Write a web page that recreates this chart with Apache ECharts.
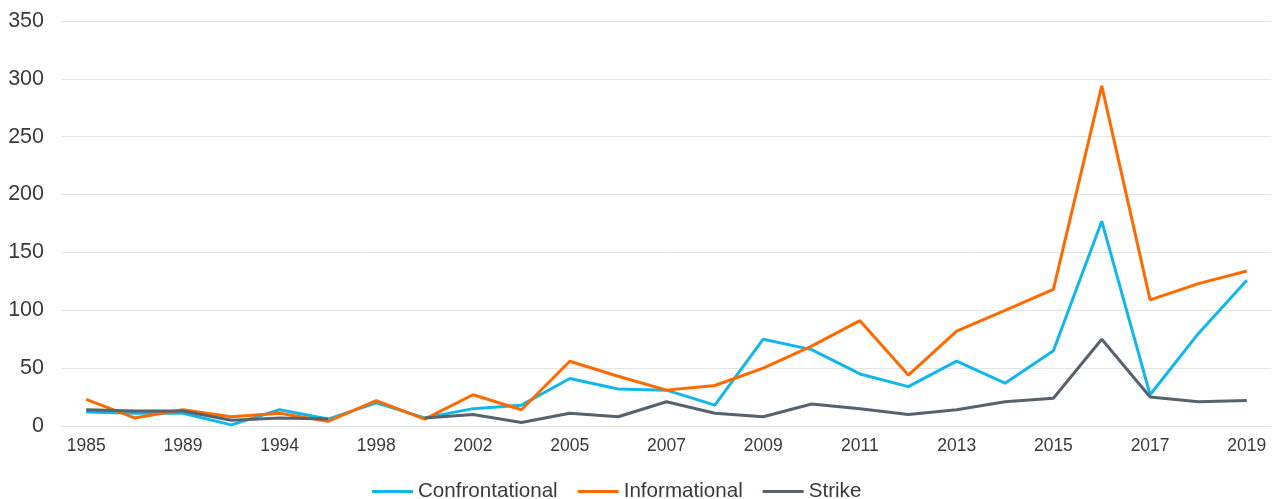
<!DOCTYPE html>
<html>
<head>
<meta charset="utf-8">
<script src="https://cdn.jsdelivr.net/npm/echarts@6/dist/echarts.min.js"></script>
<style>
html,body{margin:0;padding:0;background:#fff;}
#chart{width:1275px;height:499px;}
</style>
</head>
<body>
<div id="chart"></div>
<script>
const years = ['1985','1987','1989','1992','1994','1996','1998','2000','2002','2004','2005','2006','2007','2008','2009','2010','2011','2012','2013','2014','2015','2016','2017','2018','2019'];
const confrontational = [12,11,11,1,14,6,20,7,15,18,41,32,31,18,75,66,45,34,56,37,65,177,27,80,126];
const informational = [23,7,14,8,11,4,22,6,27,14,56,43,31,35,50,69,91,44,82,100,118,294,109,123,134];
const strike = [14,13,13,5,7,6,null,7,10,3,11,8,21,11,8,19,15,10,14,21,24,75,25,21,22];
const yTicks = [0,50,100,150,200,250,300,350];

const chart = echarts.init(document.getElementById('chart'));
const font = 'Liberation Sans, Arial, sans-serif';
function line(name, data, color){
  return {name, type:'line', data, showSymbol:false, symbol:'none', connectNulls:false,
    lineStyle:{color, width:3}, itemStyle:{color}, animation:false};
}
chart.setOption({
  animation:false,
  grid:{left:62, right:4, top:21, bottom:73},
  legend:{
    left:367, top:476, icon:'rect', itemWidth:41, itemHeight:3, itemGap:20,
    textStyle:{fontFamily:font, fontSize:20.6, color:'#3a3a3a', padding:[0,0,0,0]},
    data:['Confrontational','Informational','Strike']
  },
  xAxis:{
    type:'category', data:years, boundaryGap:true,
    axisLine:{show:true, lineStyle:{color:'#e3e3e3', width:1}},
    axisTick:{show:false},
    axisLabel:{interval:1, fontFamily:font, fontSize:17.5, color:'#3a3a3a', margin:11}
  },
  yAxis:{
    type:'value', min:yTicks[0], max:yTicks[yTicks.length-1], interval:50,
    axisLine:{show:false}, axisTick:{show:false},
    splitLine:{lineStyle:{color:'#e3e3e3', width:1}},
    axisLabel:{fontFamily:font, fontSize:21.5, color:'#3a3a3a', margin:18}
  },
  series:[
    line('Confrontational', confrontational, '#12B7EA'),
    line('Informational', informational, '#FF6A00'),
    line('Strike', strike, '#56636E')
  ]
});
</script>
</body>
</html>
